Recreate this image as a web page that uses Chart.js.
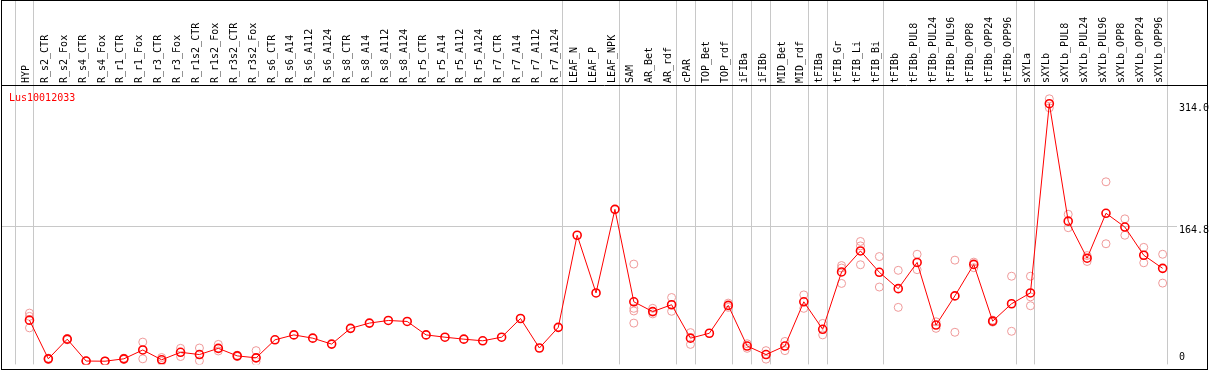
<!DOCTYPE html>
<html>
<head>
<meta charset="utf-8">
<script src="https://cdn.jsdelivr.net/npm/chart.js@4.4.1/dist/chart.umd.min.js"></script>
<style>
    html, body { margin: 0; padding: 0; background: #fff; }
    #wrap { width: 1209px; height: 370px; }
</style>
</head>
<body>
<div id="wrap"><canvas id="chart" width="1209" height="370"></canvas></div>
<script>
    "use strict";

    const geneName = 'Lus10012033';

    const categories = [
        'HYP', 'R_s2_CTR', 'R_s2_Fox', 'R_s4_CTR', 'R_s4_Fox', 'R_r1_CTR', 'R_r1_Fox',
        'R_r3_CTR', 'R_r3_Fox', 'R_r1s2_CTR', 'R_r1s2_Fox', 'R_r3s2_CTR', 'R_r3s2_Fox',
        'R_s6_CTR', 'R_s6_A14', 'R_s6_A112', 'R_s6_A124', 'R_s8_CTR', 'R_s8_A14',
        'R_s8_A112', 'R_s8_A124', 'R_r5_CTR', 'R_r5_A14', 'R_r5_A112', 'R_r5_A124',
        'R_r7_CTR', 'R_r7_A14', 'R_r7_A112', 'R_r7_A124', 'LEAF_N', 'LEAF_P', 'LEAF_NPK',
        'SAM', 'AR_Bet', 'AR_rdf', 'cPAR', 'TOP_Bet', 'TOP_rdf', 'iFIBa', 'iFIBb',
        'MID_Bet', 'MID_rdf', 'tFIBa', 'tFIB_Gr', 'tFIB_Li', 'tFIB_Bi', 'tFIBb',
        'tFIBb_PUL8', 'tFIBb_PUL24', 'tFIBb_PUL96', 'tFIBb_OPP8', 'tFIBb_OPP24', 'tFIBb_OPP96',
        'sXYLa', 'sXYLb', 'sXYLb_PUL8', 'sXYLb_PUL24', 'sXYLb_PUL96', 'sXYLb_OPP8',
        'sXYLb_OPP24', 'sXYLb_OPP96'
    ];

    // mean expression per sample (the red line)
    const meanValues = [
        50.4, 3.2, 27.2, 0.5, 0.3, 3.2, 14, 2, 11.2, 8.4, 16, 6.8, 4.4,
        26.4, 32.4, 28.4, 21.2, 40.4, 46.8, 50, 48.8, 32.4, 29.6, 27.2, 25.2,
        29.6, 52.4, 16.4, 41.6, 154, 83.6, 185.6,
        72.8, 60.8, 69.2, 28.4, 34.4, 68.4, 18.8, 8.4, 18.8, 72.8,
        39.2, 109.2, 134.8, 108.8, 88.8,
        120.8, 44.4, 80, 118.4, 49.2, 70.4,
        83.6, 314.5, 171.2, 126, 180.8, 164, 129.6, 113.6
    ];

    // single replicates (pale circles)
    const replicateValues = [
        [59, 55, 41], [4, 2.4], [28, 26.4], [0.8, 0.2], [0.5, 0.1], [4, 2.4], [23.6, 3.2],
        [4.8, 0], [16, 6], [16.4, 0.8], [20.8, 12.8], [7.6, 6], [13.2, 0],
        [], [], [], [], [], [], [], [], [], [], [], [],
        [], [], [], [], [], [], [],
        [118.8, 64.8, 61.6, 46.8], [64.8, 58], [78, 61.2], [35.2, 20.8], [], [71.2, 66],
        [21.6, 16], [13.2, 2.8], [24.4, 13.2], [81.2, 64.8],
        [46.4, 32.4], [117, 114, 95.2], [146.4, 141, 118], [128, 90.8], [111.2, 66],
        [130.8, 112], [48.4, 40.4], [123.6, 35.6], [121.2, 114.4], [50.4, 48], [104, 36.8],
        [104, 78.8, 68], [320.5, 309.5], [179.6, 163.2], [129.2, 122], [219.2, 143.6],
        [174, 154], [139.2, 120.4], [130.8, 95.6]
    ];

    // last sample of each group, a grey separator follows it
    const groupEnds = [-1, 0, 28, 31, 34, 35, 37, 38, 39, 41, 42, 45, 52, 53, 60];

    const yTickValues = [0, 164.8, 314.0];
    const yTickLabels = ['0', '164.8', '314.0'];

    const MONO = '"DejaVu Sans Mono", "Liberation Mono", monospace';

    const meanPoints = meanValues.map((v, i) => ({ x: i, y: v }));
    const repPoints = [];
    replicateValues.forEach((reps, i) => {
        reps.forEach(v => repPoints.push({ x: i, y: v }));
    });

    const framePlugin = {
        id: 'frame',
        beforeDraw(chart) {
            const { ctx, chartArea, scales } = chart;
            ctx.save();
            ctx.fillStyle = '#ffffff';
            ctx.fillRect(0, 0, chart.width, chart.height);

            ctx.strokeStyle = '#c8c8c8';
            ctx.lineWidth = 1;
            groupEnds.forEach(i => {
                const px = Math.floor(scales.x.getPixelForValue(i + 0.24)) + 0.5;
                ctx.beginPath();
                ctx.moveTo(px, 0);
                ctx.lineTo(px, chartArea.bottom);
                ctx.stroke();
            });

            const gy = Math.round(scales.y.getPixelForValue(yTickValues[1])) + 0.5;
            ctx.beginPath();
            ctx.moveTo(1, gy);
            ctx.lineTo(1177, gy);
            ctx.stroke();
            ctx.restore();
        },
        afterDraw(chart) {
            const { ctx, chartArea, scales } = chart;
            ctx.save();
            ctx.strokeStyle = '#000000';
            ctx.lineWidth = 1;
            ctx.strokeRect(1.5, 0.5, 1206, 369);
            ctx.beginPath();
            ctx.moveTo(1, 85.5);
            ctx.lineTo(1208, 85.5);
            ctx.stroke();

            ctx.font = '10px ' + MONO;
            ctx.textAlign = 'left';
            ctx.textBaseline = 'alphabetic';
            ctx.fillStyle = '#ff0000';
            ctx.fillText(geneName, 9, 101);

            ctx.fillStyle = '#000000';
            ctx.textBaseline = 'middle';
            yTickValues.forEach((v, k) => {
                let ty = scales.y.getPixelForValue(v) + 4;
                ty = Math.min(ty, chartArea.bottom - 7);
                ctx.fillText(yTickLabels[k], 1179, ty);
            });
            ctx.restore();
        }
    };

    const ctx = document.getElementById('chart').getContext('2d');
    new Chart(ctx, {
        type: 'scatter',
        data: {
            datasets: [
                {
                    type: 'line',
                    data: meanPoints,
                    borderColor: '#ff0000',
                    borderWidth: 1,
                    tension: 0,
                    pointRadius: 4,
                    pointBorderWidth: 1.6,
                    pointBorderColor: '#ff0000',
                    pointBackgroundColor: 'rgba(0,0,0,0)',
                    order: 0
                },
                {
                    type: 'scatter',
                    data: repPoints,
                    showLine: false,
                    pointRadius: 4,
                    pointBorderWidth: 1,
                    pointBorderColor: '#f09a9a',
                    pointBackgroundColor: 'rgba(0,0,0,0)',
                    order: 1
                }
            ]
        },
        options: {
            responsive: false,
            animation: false,
            devicePixelRatio: 1,
            layout: { padding: { left: 2, right: 2, top: 0, bottom: 1 } },
            plugins: {
                legend: { display: false },
                tooltip: { enabled: false }
            },
            scales: {
                x: {
                    type: 'linear',
                    position: 'top',
                    min: -24 / 19,
                    max: -24 / 19 + 1205 / 19,
                    grid: { display: false, drawTicks: false },
                    border: { display: false },
                    afterBuildTicks: (scale) => {
                        scale.ticks = categories.map((c, i) => ({ value: i }));
                    },
                    afterFit: (scale) => {
                        scale.height = 86;
                    },
                    ticks: {
                        autoSkip: false,
                        minRotation: 90,
                        maxRotation: 90,
                        padding: 3,
                        labelOffset: 9,
                        color: '#000000',
                        font: { family: MONO, size: 10 },
                        callback: (v) => categories[v] ?? ''
                    }
                },
                y: {
                    type: 'linear',
                    display: false,
                    min: -3.6,
                    max: 336.1
                }
            }
        },
        plugins: [framePlugin]
    });
</script>
</body>
</html>
